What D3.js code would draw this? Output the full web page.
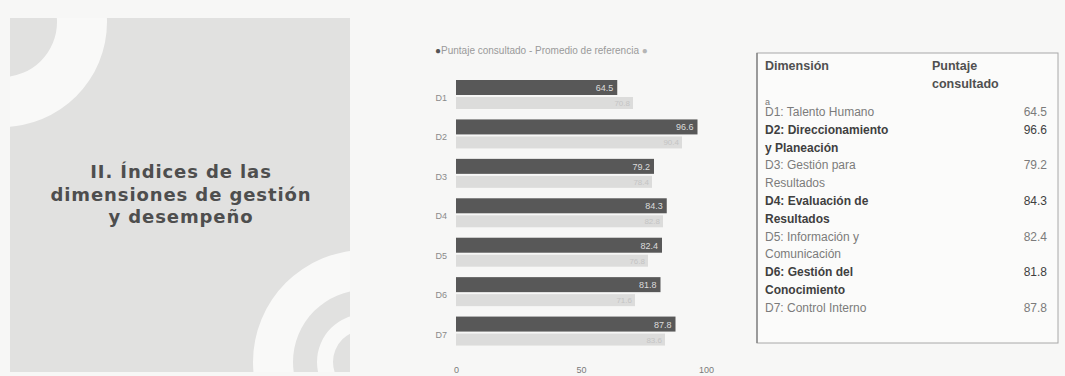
<!DOCTYPE html>
<html>
<head>
<meta charset="utf-8">
<script src="https://cdn.jsdelivr.net/npm/d3@7"></script>
<style>
  html, body { margin: 0; padding: 0; background: #f7f7f6; }
  svg { display: block; }
</style>
</head>
<body>
<script>
// ---------- data ----------
const categories = ["D1", "D2", "D3", "D4", "D5", "D6", "D7"];
const puntajeConsultado = [64.5, 96.6, 79.2, 84.3, 82.4, 81.8, 87.8];
const promedioReferencia = [70.8, 90.4, 78.4, 82.8, 76.8, 71.6, 83.6];
const xTicks = [0, 50, 100];
const legendLabels = ["Puntaje consultado", "Promedio de referencia"];
const titleLines = ["II. Índices de las", "dimensiones de gestión", "y desempeño"];
const tableHeader = ["Dimensión", ["Puntaje", "consultado"]];
const dimensionNames = [
  ["D1: Talento Humano"],
  ["D2: Direccionamiento", "y Planeación"],
  ["D3: Gestión para", "Resultados"],
  ["D4: Evaluación de", "Resultados"],
  ["D5: Información y", "Comunicación"],
  ["D6: Gestión del", "Conocimiento"],
  ["D7: Control Interno"]
];

// ---------- setup ----------
const W = 1065, H = 376;
const svg = d3.select("body").append("svg").attr("width", W).attr("height", H);
svg.append("rect").attr("width", W).attr("height", H).attr("fill", "#f7f7f6");

// ---------- left panel ----------
const panel = { x: 10, y: 18, w: 340, h: 354 };
svg.append("clipPath").attr("id", "pclip")
  .append("rect").attr("x", panel.x).attr("y", panel.y).attr("width", panel.w).attr("height", panel.h);
svg.append("rect").attr("x", panel.x).attr("y", panel.y).attr("width", panel.w).attr("height", panel.h)
  .attr("fill", "#e1e1e0");
const pg = svg.append("g").attr("clip-path", "url(#pclip)");
const ring = d3.arc().startAngle(0).endAngle(2 * Math.PI);
[[2, 22, 55, 105], [365, 362, 72, 112], [365, 362, 32, 48]].forEach(([cx, cy, r0, r1]) => {
  pg.append("path").attr("transform", `translate(${cx},${cy})`)
    .attr("d", ring.innerRadius(r0).outerRadius(r1)())
    .attr("fill", "#f9f9f8");
});
svg.append("text")
  .attr("x", 181).attr("y", 178)
  .attr("text-anchor", "middle")
  .attr("font-family", "DejaVu Sans").attr("font-weight", "bold")
  .attr("font-size", 18).attr("letter-spacing", 0.9)
  .attr("fill", "#4e4e4e")
  .selectAll("tspan").data(titleLines).join("tspan")
  .attr("x", 181).attr("dy", (d, i) => i === 0 ? 0 : 22.5)
  .text(d => d);

// ---------- bar chart ----------
const x = d3.scaleLinear().domain([0, 100]).range([456, 706]);
const y = d3.scaleBand().domain(categories).range([77, 353]).padding(0);
const darkH = 15, lightH = 12;
const rows = categories.map((c, i) => ({ c, v: puntajeConsultado[i], r: promedioReferencia[i] }));
const chart = svg.append("g");

chart.selectAll("rect.ref").data(rows).join("rect")
  .attr("class", "ref")
  .attr("x", x(0)).attr("y", d => y(d.c) + 20)
  .attr("width", d => x(d.r) - x(0)).attr("height", lightH)
  .attr("fill", "#dcdcdb");
chart.selectAll("text.rl").data(rows).join("text")
  .attr("class", "rl")
  .attr("x", d => x(d.r) - 3).attr("y", d => y(d.c) + 29)
  .attr("text-anchor", "end")
  .attr("font-family", "Liberation Sans").attr("font-size", 8)
  .attr("fill", "#c4c4c4")
  .text(d => d.r.toFixed(1));

chart.selectAll("rect.val").data(rows).join("rect")
  .attr("class", "val")
  .attr("x", x(0)).attr("y", d => y(d.c) + 3)
  .attr("width", d => x(d.v) - x(0)).attr("height", darkH)
  .attr("fill", "#585858");
chart.selectAll("text.vl").data(rows).join("text")
  .attr("class", "vl")
  .attr("x", d => x(d.v) - 4).attr("y", d => y(d.c) + 14)
  .attr("text-anchor", "end")
  .attr("font-family", "Liberation Sans").attr("font-size", 9)
  .attr("fill", "#dcdcdc")
  .text(d => d.v.toFixed(1));

chart.selectAll("text.cat").data(rows).join("text")
  .attr("class", "cat")
  .attr("x", 447).attr("y", d => y(d.c) + 24)
  .attr("text-anchor", "end")
  .attr("font-family", "Liberation Sans").attr("font-size", 9)
  .attr("fill", "#8a8a8a")
  .text(d => d.c);

const axis = d3.axisBottom(x).tickValues(xTicks).tickSize(0).tickPadding(0).tickFormat(d3.format("d"));
const ag = svg.append("g").attr("transform", "translate(0,367)").call(axis);
ag.select(".domain").remove();
ag.selectAll("text").attr("font-family", "Liberation Sans").attr("font-size", 9).attr("fill", "#7a7a7a");

// legend
const lg = svg.append("text").attr("x", 435).attr("y", 54)
  .attr("font-family", "Liberation Sans").attr("font-size", 10).attr("fill", "#9a9a9a");
lg.append("tspan").attr("fill", "#555").text("●");
lg.append("tspan").text(legendLabels[0] + " - " + legendLabels[1] + " ");
lg.append("tspan").attr("fill", "#b5b5b5").text("●");

// ---------- table ----------
const tb = { x: 757, y: 53, w: 301, h: 290 };
svg.append("rect").attr("x", tb.x).attr("y", tb.y).attr("width", tb.w).attr("height", tb.h)
  .attr("fill", "#fbfbfa").attr("stroke", "#a8a8a8").attr("stroke-width", 1);
svg.append("line").attr("x1", tb.x).attr("x2", tb.x).attr("y1", tb.y).attr("y2", tb.y + tb.h)
  .attr("stroke", "#777").attr("stroke-width", 1.2);

const tf = "Liberation Sans";
svg.append("text").attr("x", 765).attr("y", 70).attr("font-family", tf).attr("font-size", 12.5)
  .attr("font-weight", "bold").attr("fill", "#505050").text(tableHeader[0]);
svg.append("text").attr("font-family", tf).attr("font-size", 12.5).attr("font-weight", "bold")
  .attr("fill", "#505050")
  .selectAll("tspan").data(tableHeader[1]).join("tspan")
  .attr("x", 932).attr("y", (d, i) => 70 + i * 18).text(d => d);
svg.append("text").attr("x", 765).attr("y", 105).attr("font-family", tf).attr("font-size", 9)
  .attr("fill", "#777").text("a");

const lineH = 17.8, firstBase = 116;
let lineIdx = 0;
dimensionNames.forEach((lines, i) => {
  const dark = i % 2 === 1;
  const col = dark ? "#3f3f3f" : "#7b7b7b";
  const base = firstBase + lineIdx * lineH;
  const t = svg.append("text").attr("font-family", tf).attr("font-size", 12)
    .attr("font-weight", dark ? "bold" : "normal").attr("fill", col);
  t.selectAll("tspan").data(lines).join("tspan")
    .attr("x", 765).attr("y", (d, k) => base + k * lineH).text(d => d);
  svg.append("text").attr("x", 1047).attr("y", base).attr("text-anchor", "end")
    .attr("font-family", tf).attr("font-size", 12).attr("fill", col)
    .text(puntajeConsultado[i].toFixed(1));
  lineIdx += lines.length;
});
</script>
</body>
</html>
